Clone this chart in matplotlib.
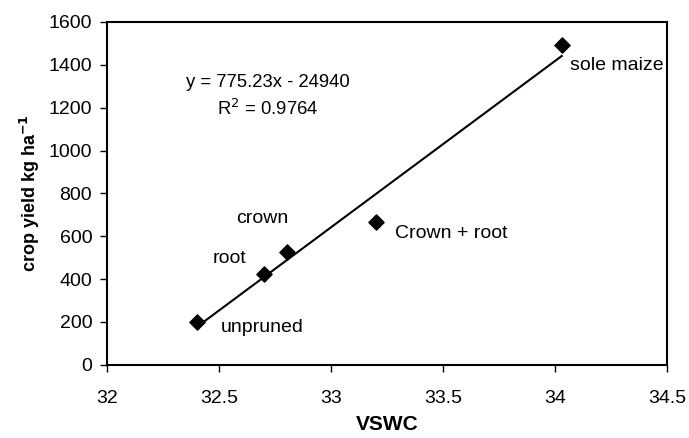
import numpy as np
import matplotlib.pyplot as plt

plt.rcParams['font.family'] = ['Liberation Sans', 'DejaVu Sans']
plt.rcParams['axes.unicode_minus'] = False

# data
vswc = [32.4, 32.7, 32.8, 33.2, 34.03]
yield_kg = [200, 423, 525, 665, 1492]
names = ['unpruned', 'root', 'crown', 'Crown + root', 'sole maize']
slope = 775.23
intercept = -24940
r2 = 0.9764

# label offsets in points (dx, dy)
offsets = [(17, -4), (-37, 11), (-36, 24), (14, -8), (6, -14.5)]

fig = plt.figure(figsize=(6.89, 4.38), dpi=100)
ax = fig.add_axes([0.156, 0.167, 0.812, 0.783])

xs = np.array([min(vswc), max(vswc)])
ax.plot(xs, slope * xs + intercept, color='black', lw=1.5, zorder=2)
ax.scatter(vswc, yield_kg, marker='D', s=60, color='black', zorder=3)

for x, y, n, (dx, dy) in zip(vswc, yield_kg, names, offsets):
    ax.annotate(n, (x, y), xytext=(dx, dy), textcoords='offset points',
                fontsize=14, va='center', ha='left')

ax.text(0.286, 0.782, 'y = 775.23x - 24940\nR$^2$ = 0.9764', transform=ax.transAxes,
        fontsize=13.3, ha='center', va='center', linespacing=1.5)

ax.set_xlim(32, 34.5)
ax.set_ylim(0, 1600)
ax.set_xticks([32, 32.5, 33, 33.5, 34, 34.5])
ax.set_xticklabels(['32', '32.5', '33', '33.5', '34', '34.5'])
ax.set_yticks(range(0, 1601, 200))
ax.tick_params(direction='out', labelsize=14, length=5, width=1, top=False, right=False)
ax.tick_params(axis='x', pad=13)
ax.tick_params(axis='y', pad=6)
for s in ax.spines.values():
    s.set_linewidth(1.5)

ax.set_xlabel('VSWC', fontsize=15, fontweight='bold', labelpad=6)
ax.set_ylabel('crop yield kg ha$^{\\mathbf{-1}}$', fontsize=13, fontweight='bold', labelpad=5)

fig.savefig('out.png', dpi=100)
